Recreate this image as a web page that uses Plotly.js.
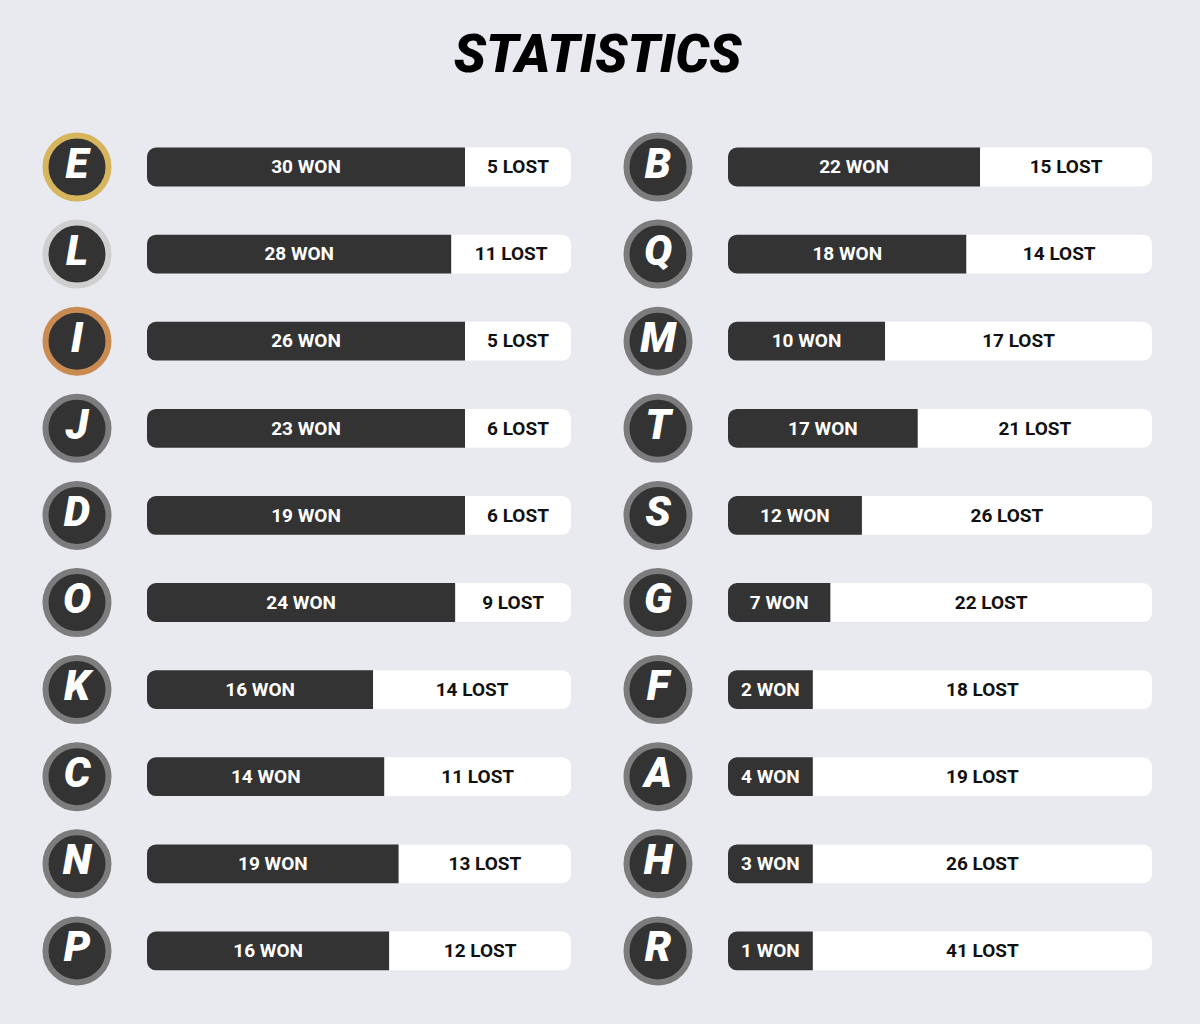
<!DOCTYPE html>
<html>
<head>
<meta charset="utf-8">
<script src="https://cdn.plot.ly/plotly-3.0.1.min.js"></script>
<style>html,body{margin:0;padding:0;background:#e9eaef;}</style>
</head>
<body>
<div id="chart" style="width:1200px;height:1024px;"></div>
<script>
// Left column
const leftTeams = ["E","L","I","J","D","O","K","C","N","P"];
const leftWon   = [30, 28, 26, 23, 19, 24, 16, 14, 19, 16];
const leftLost  = [5, 11, 5, 6, 6, 9, 14, 11, 13, 12];
// Right column
const rightTeams = ["B","Q","M","T","S","G","F","A","H","R"];
const rightWon   = [22, 18, 10, 17, 12, 7, 2, 4, 3, 1];
const rightLost  = [15, 14, 17, 21, 26, 22, 18, 19, 26, 41];
// Badge ring colours (rank medals for top three)
const leftRing  = ["#d6b55c","#cfcfcf","#c98b52","#7c7c7c","#7c7c7c","#7c7c7c","#7c7c7c","#7c7c7c","#7c7c7c","#7c7c7c"];
const rightRing = ["#7c7c7c","#7c7c7c","#7c7c7c","#7c7c7c","#7c7c7c","#7c7c7c","#7c7c7c","#7c7c7c","#7c7c7c","#7c7c7c"];

const DARK = "#333333";
const FONT = "Roboto, 'Open Sans', sans-serif";
const MINF = 0.2, MAXF = 0.75;

function frac(w, l) {
  const f = w / (w + l);
  return Math.min(MAXF, Math.max(MINF, f));
}

// Axis runs from -0.5 (bar start) to 0.5 (bar end); relative stacking
// rounds only the outer ends of the negative and positive stacks.
function columnTraces(teams, won, lost, ring, xa, ya, yt, xb) {
  const f = won.map((w, i) => frac(w, lost[i]));
  const bar = (x, color) => ({type: "bar", orientation: "h", y: teams, x: x, xaxis: xa, yaxis: ya,
    width: 0.445, hoverinfo: "skip", showlegend: false, textposition: "none",
    marker: {color: color, cornerradius: 9, line: {width: 0}}});
  const whiteNeg = bar(f.map(v => Math.min(v - 0.5, 0)), "#ffffff");
  const darkPos  = bar(f.map(v => Math.max(v - 0.5, 0)), DARK);
  const whitePos = bar(f.map(v => Math.min(0.5, 1 - v)), "#ffffff");
  const darkNeg  = bar(f.map(v => -Math.min(v, 0.5)), DARK);
  const txt = (x, text, color) => ({type: "scatter", mode: "text", x: x, y: teams, text: text,
    xaxis: xa, yaxis: yt, textposition: "middle center", hoverinfo: "skip", showlegend: false,
    cliponaxis: false, textfont: {family: FONT, size: 19, color: color, weight: 700}});
  const wonText  = txt(f.map(v => v / 2 - 0.5), won.map(w => w + " WON"), "#ffffff");
  const lostText = txt(f.map(v => (v + 1) / 2 - 0.5), lost.map(l => l + " LOST"), "#111111");
  const badge = {type: "scatter", mode: "markers+text", x: teams.map(() => 0), y: teams,
    xaxis: xb, yaxis: ya, text: teams, textposition: "middle center", hoverinfo: "skip",
    showlegend: false, cliponaxis: false,
    marker: {size: 63, color: DARK, line: {width: 6, color: ring}},
    textfont: {family: FONT, size: 42, color: "#ffffff", weight: 900, style: "italic"}
  };
  return [whiteNeg, darkPos, whitePos, darkNeg, wonText, lostText, badge];
}

const data = [].concat(
  columnTraces(leftTeams, leftWon, leftLost, leftRing, "x", "y", "y3", "x3"),
  columnTraces(rightTeams, rightWon, rightLost, rightRing, "x2", "y2", "y4", "x4")
);

const rowStart = 167, rowStep = 87.1, H = 1024, textShift = 1.5;
const yRange = [(H - rowStart) / rowStep, -rowStart / rowStep];
const tRange = [(H - rowStart - textShift) / rowStep, -(rowStart + textShift) / rowStep];
const hidden = {showgrid: false, zeroline: false, showticklabels: false, ticks: "", showline: false, fixedrange: true};

const layout = {
  width: 1200, height: H,
  margin: {l: 0, r: 0, t: 0, b: 0},
  paper_bgcolor: "#e9eaef", plot_bgcolor: "rgba(0,0,0,0)",
  barmode: "relative",
  title: {text: "STATISTICS", x: 0.498, xanchor: "center", y: 1 - 53 / H, yanchor: "middle",
    font: {family: FONT, size: 53, color: "#000000", weight: 900, style: "italic"}},
  xaxis:  Object.assign({}, hidden, {domain: [147 / 1200, 571 / 1200], range: [-0.5, 0.5], anchor: "y"}),
  xaxis2: Object.assign({}, hidden, {domain: [728 / 1200, 1152 / 1200], range: [-0.5, 0.5], anchor: "y2"}),
  xaxis3: Object.assign({}, hidden, {domain: [37 / 1200, 117 / 1200], range: [-1, 1], anchor: "y"}),
  xaxis4: Object.assign({}, hidden, {domain: [618 / 1200, 698 / 1200], range: [-1, 1], anchor: "y2"}),
  yaxis:  Object.assign({}, hidden, {domain: [0, 1], range: yRange, type: "category", categoryarray: leftTeams, categoryorder: "array", anchor: "x"}),
  yaxis2: Object.assign({}, hidden, {domain: [0, 1], range: yRange, type: "category", categoryarray: rightTeams, categoryorder: "array", anchor: "x2"}),
  yaxis3: Object.assign({}, hidden, {domain: [0, 1], range: tRange, type: "category", categoryarray: leftTeams, categoryorder: "array", anchor: "x", overlaying: "y"}),
  yaxis4: Object.assign({}, hidden, {domain: [0, 1], range: tRange, type: "category", categoryarray: rightTeams, categoryorder: "array", anchor: "x2", overlaying: "y2"})
};

Plotly.newPlot("chart", data, layout, {displayModeBar: false, staticPlot: true});
</script>
</body>
</html>
